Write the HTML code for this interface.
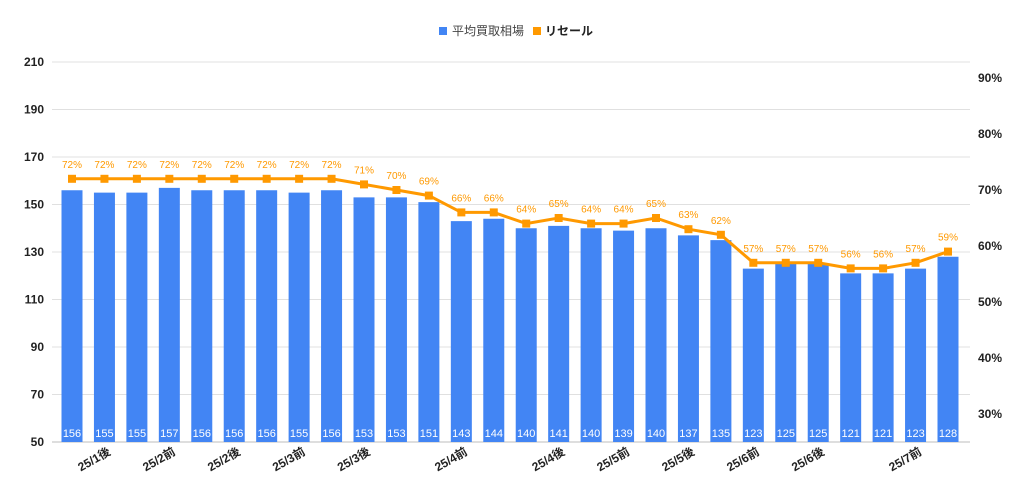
<!DOCTYPE html>
<html><head><meta charset="utf-8"><style>
html,body{margin:0;padding:0;background:#fff;}
svg{display:block;font-family:"Liberation Sans","Noto Sans CJK JP",sans-serif;}
</style></head><body>
<svg id="chart" width="1024" height="496" viewBox="0 0 1024 496"></svg>
<script>
const categories=["25/1前a","25/1後","25/1後b","25/2前","25/2前b","25/2後","25/2後b","25/3前","25/3前b","25/3後","25/3後b","25/4前a","25/4前","25/4前b","25/4後a","25/4後","25/4後b","25/5前","25/5前b","25/5後","25/5後b","25/6前","25/6前b","25/6後","25/6後b","25/7前a","25/7前","25/7前b"];
const priceValues=[156,155,155,157,156,156,156,155,156,153,153,151,143,144,140,141,140,139,140,137,135,123,125,125,121,121,123,128];
const resaleValues=[72,72,72,72,72,72,72,72,72,71,70,69,66,66,64,65,64,64,65,63,62,57,57,57,56,56,57,59];
const leftTicks=[50,70,90,110,130,150,170,190,210];
const rightTicks=[30,40,50,60,70,80,90];
const xLabels=[[1,"25/1後"],[3,"25/2前"],[5,"25/2後"],[7,"25/3前"],[9,"25/3後"],[12,"25/4前"],[15,"25/4後"],[17,"25/5前"],[19,"25/5後"],[21,"25/6前"],[23,"25/6後"],[26,"25/7前"]];

const NS="http://www.w3.org/2000/svg";
const svg=document.getElementById('chart');
function mk(tag,attrs,parent){const e=document.createElementNS(NS,tag);for(const k in attrs)e.setAttribute(k,attrs[k]);(parent||svg).appendChild(e);return e;}
const yL=v=>442-(v-50)*380/160;
const yR=p=>414-(p-30)*5.6;
const xC=i=>72+i*(876/27);
const bw=21;

leftTicks.forEach(t=>{
  const g=mk('line',{x1:52,x2:970,y1:yL(t),y2:yL(t),stroke:t===50?'#bdbdbd':'#e0e0e0','stroke-width':1});
  
  
  const tx=mk('text',{x:44,y:yL(t)+4,'text-anchor':'end','font-size':12,fill:'#222','font-weight':'bold'});
  tx.textContent=t;
  
  
});
rightTicks.forEach(t=>{
  const tx=mk('text',{x:978,y:yR(t)+4,'font-size':12,fill:'#222','font-weight':'bold'});
  tx.textContent=t+'%';
  
  
});
priceValues.forEach((v,i)=>{
  const r=mk('rect',{x:xC(i)-bw/2,y:yL(v),width:bw,height:442-yL(v),fill:'#4285f4'});
  
  
  const t=mk('text',{x:xC(i),y:437,'text-anchor':'middle','font-size':11,fill:'#fff'});
  t.textContent=v;
  
  
});
const pts=resaleValues.map((p,i)=>xC(i)+','+yR(p)).join(' ');
const pl=mk('polyline',{points:pts,fill:'none',stroke:'#ff9900','stroke-width':3});


resaleValues.forEach((p,i)=>{
  const m=mk('rect',{x:xC(i)-4,y:yR(p)-4,width:8,height:8,fill:'#ff9900'});
  
  
  const t=mk('text',{x:xC(i),y:yR(p)-11,'text-anchor':'middle','font-size':10,fill:'#ff9900'});
  t.textContent=p+'%';
  
  
});
xLabels.forEach(([i,l])=>{
  const x=xC(i)+7,y=454;
  const t=mk('text',{x:x,y:y,'text-anchor':'end','font-size':12,fill:'#222','font-weight':'bold',transform:'rotate(-30 '+x+' '+y+')'});
  t.textContent=l;
  
  
});
// legend
const lg=mk('g',{});


const l1=mk('rect',{x:439,y:27,width:8,height:8,fill:'#4285f4'},lg);


const t1=mk('text',{x:452,y:35,'font-size':12,fill:'#444'},lg);
t1.textContent='平均買取相場';


const l2=mk('rect',{x:533,y:27,width:8,height:8,fill:'#ff9900'},lg);


const t2=mk('text',{x:545,y:35,'font-size':12,fill:'#222','font-weight':'bold'},lg);
t2.textContent='リセール';


</script>
</body></html>
